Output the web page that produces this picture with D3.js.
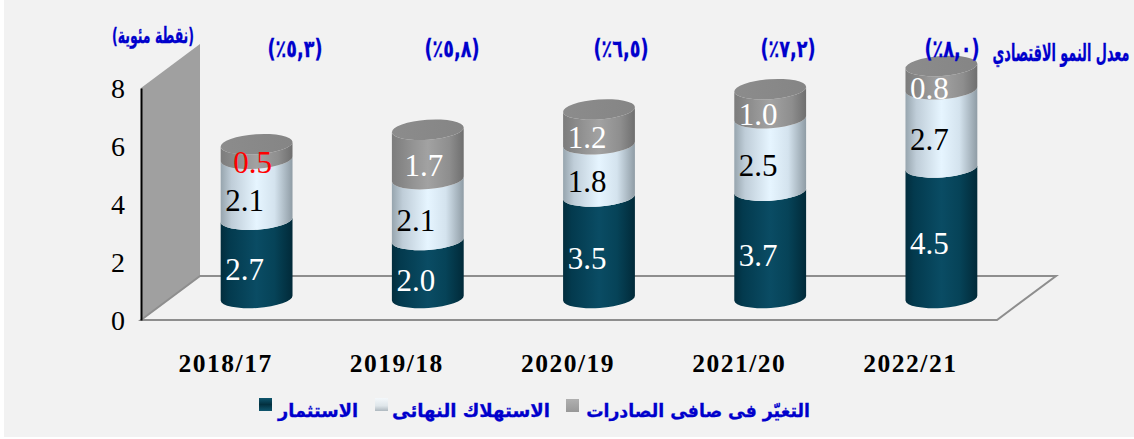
<!DOCTYPE html>
<html><head><meta charset="utf-8">
<style>
html,body{margin:0;padding:0;background:#fff;overflow:hidden}
svg{display:block}
.v{font-family:"Liberation Serif",serif;font-size:31px;text-anchor:middle}
.tick text{font-family:"Liberation Serif",serif;font-size:28px;fill:#000}
.cat{font-family:"Liberation Serif",serif;font-size:25.5px;font-weight:bold;text-anchor:middle;letter-spacing:1.5px}
.ar{font-family:"DejaVu Sans",sans-serif;font-weight:bold;fill:#0000cc;stroke:#0000cc;stroke-width:.3px;direction:rtl;unicode-bidi:embed;text-anchor:middle}
</style>
<script src="https://cdnjs.cloudflare.com/ajax/libs/d3/7.8.5/d3.min.js"></script>
</head><body><svg id="c" width="1134" height="439"></svg>
<script>
const categories=["2018/17","2019/18","2020/19","2021/20","2022/21"];
const investment=[2.7,2.0,3.5,3.7,4.5];
const consumption=[2.1,2.1,1.8,2.5,2.7];
const netExports=[0.5,1.7,1.2,1.0,0.8];
const growth=["(٥,٣٪)","(٥,٨٪)","(٦,٥٪)","(٧,٢٪)","(٨,٠٪)"];
const seriesNames=["الاستثمار","الاستهلاك النهائى","التغيّر فى صافى الصادرات"];
const yTicks=[0,2,4,6,8];
const unitLabel="(نقطة مئوية)";
const growthLabel="معدل النمو الاقتصادي";

const svg=d3.select("#c");
const W=1134,H=439;
svg.append("rect").attr("x",4).attr("y",0).attr("width",W-4).attr("height",H-2).attr("fill","#f2f2f2");

const y=d3.scaleLinear().domain([0,8]).range([320,88]);
const x=d3.scaleBand().domain(categories).range([141,997]);
const wallDx=59,wallDy=44,barDx=30,barDy=22,rx=36,ry=10,tilt=-4;

const defs=svg.append("defs");
function grad(id,stops){
  const g=defs.append("linearGradient").attr("id",id);
  stops.forEach(([o,c])=>g.append("stop").attr("offset",o).attr("stop-color",c));
}
grad("g0",[[0,"#022d3d"],[.12,"#033a4e"],[.5,"#0a4c64"],[.75,"#064358"],[1,"#012a39"]]);
grad("g1",[[0,"#97a5ae"],[.15,"#bfcdd8"],[.5,"#e6f5ff"],[.75,"#d4e3ee"],[1,"#8f9ca5"]]);
grad("g2",[[0,"#7c7c7c"],[.3,"#949494"],[.5,"#a2a2a2"],[.8,"#8e8e8e"],[1,"#6f6f6f"]]);
grad("cap",[[0,"#8c8c8c"],[1,"#858585"]]);
const mg=(id,st)=>{const g=defs.append("linearGradient").attr("id",id).attr("x2",0).attr("y2",1);
  st.forEach(([o,c])=>g.append("stop").attr("offset",o).attr("stop-color",c));};
mg("m0",[[0,"#0f566e"],[.5,"#03303f"],[1,"#0f566e"]]);
mg("m1",[[0,"#f4f8fb"],[.6,"#dfe6ea"],[1,"#aeb8bf"]]);
mg("m2",[[0,"#b0b0b0"],[1,"#989898"]]);

// walls and floor
const f0=y(0),f8=y(8),l=x.range()[0],r=x.range()[1];
const line=d3.line();
svg.append("path").attr("d",line([[l,f8],[l+wallDx,f8-wallDy],[l+wallDx,f0-wallDy],[l,f0]])+"Z").attr("fill","#a0a0a0");
svg.append("path").attr("d",line([[l,f0],[l+wallDx,f0-wallDy],[r+wallDx,f0-wallDy],[r,f0]])+"Z")
  .attr("fill","#f2f2f2").attr("stroke","#8e8e8e").attr("stroke-width",2);

// axis
const axis=d3.axisLeft(y).tickValues(yTicks).tickSize(0).tickPadding(16).tickFormat(d3.format("d"));
const ax=svg.append("g").attr("transform",`translate(${l},0)`).call(axis);
ax.select(".domain").attr("stroke","#000").attr("stroke-width",2);
ax.selectAll(".tick text").attr("dy","0.34em");

// bars
const series=[investment,consumption,netExports];
const rad=tilt*Math.PI/180, ex=rx*Math.cos(rad), ey=rx*Math.sin(rad);
categories.forEach((c,i)=>{
  const cx=x(c)+x.bandwidth()/2+barDx;
  let cum=0;
  const g=svg.append("g");
  series.forEach((s,k)=>{
    const v=s[i],y0=y(cum)-barDy,y1=y(cum+v)-barDy;
    const d=`M${cx-ex},${y0-ey}A${rx},${ry} ${tilt} 0 0 ${cx+ex},${y0+ey}L${cx+ex},${y1+ey}A${rx},${ry} ${tilt} 0 1 ${cx-ex},${y1-ey}Z`;
    g.append("path").attr("d",d).attr("fill",`url(#g${k})`);
    cum+=v;
  });
  const top=y(cum)-barDy;
  g.append("ellipse").attr("cx",0).attr("cy",0).attr("rx",rx).attr("ry",ry)
    .attr("transform",`translate(${cx},${top}) rotate(${tilt})`).attr("fill","url(#cap)");
  cum=0;
  series.forEach((s,k)=>{
    const v=s[i],mid=y(cum+v/2)-barDy+11;
    const col=(k===2&&i===0)?"#ff0000":(k===1?"#000":"#fff");
    const nudge=(k===2&&i<2)?8:0;
    svg.append("text").attr("class","v").attr("x",cx-12+nudge).attr("y",mid).attr("dy","0.34em")
      .attr("fill",col).text(v.toFixed(1));
    cum+=v;
  });
  svg.append("text").attr("class","cat").attr("x",x(c)+x.bandwidth()/2-1).attr("y",372).text(c);
});

// arabic text, squeezed horizontally to the reference's narrow lettering
function ar(t,cx,yy,size,len){
  const n=svg.append("text").attr("class","ar").attr("font-size",size).text(t);
  const sx=len/n.node().getComputedTextLength();
  n.attr("transform",`translate(${cx},${yy}) scale(${sx},1)`);
}
const gx=[295,452,621,788,952];
growth.forEach((t,i)=>ar(t,gx[i],57,24,55));
ar(unitLabel,153,43,22,82);
ar(growthLabel,1061,61,24,137);

// legend
const lg=[{k:2,sx:566,tx:698,len:224,sy:399,ty:417},{k:1,sx:375,tx:471,len:158,sy:398,ty:417},{k:0,sx:259,tx:318,len:80,sy:398,ty:417}];
lg.forEach(o=>{
  svg.append("rect").attr("x",o.sx).attr("y",o.sy).attr("width",13).attr("height",13).attr("fill",`url(#m${o.k})`);
  ar(seriesNames[o.k],o.tx,o.ty,18,o.len);
});
</script></body></html>
